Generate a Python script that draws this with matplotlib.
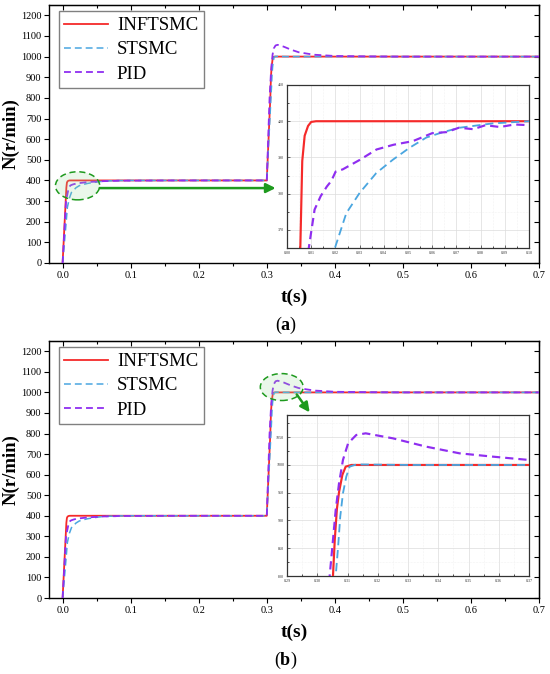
import matplotlib
matplotlib.use("Agg")
import matplotlib.pyplot as plt
from matplotlib.patches import Ellipse
from matplotlib.ticker import MultipleLocator

plt.rcParams['font.family'] = ['Liberation Serif', 'DejaVu Serif']
plt.rcParams['mathtext.fontset'] = 'custom'
plt.rcParams['mathtext.rm'] = 'Liberation Serif'
plt.rcParams['mathtext.bf'] = 'Liberation Serif:bold'

# ---------------- data ----------------
t_inftsmc = [0.0, 0.0055, 0.0063, 0.0073, 0.0087, 0.010, 0.012, 0.300,
             0.3052, 0.3058, 0.3065, 0.3072, 0.3083, 0.3094, 0.3113, 0.700]
n_inftsmc = [0, 365, 389, 396, 398.7, 399.8, 400, 400,
             800, 866, 921, 951, 982, 997, 1000, 1000]

t_stsmc = [0.0, 0.004, 0.007, 0.010, 0.013, 0.0198, 0.0245, 0.030, 0.0369,
           0.0438, 0.0507, 0.0576, 0.0645, 0.0713, 0.085, 0.100, 0.300,
           0.3061, 0.3069, 0.3076, 0.3085, 0.3096, 0.3107, 0.313, 0.330, 0.700]
n_stsmc = [0, 150, 270, 315, 342, 365, 374.6, 380.2, 385.7,
           389.4, 392.7, 395.5, 397.0, 398.2, 399.4, 400, 400,
           800, 853, 907, 949, 979, 997, 1001, 1000, 1000]

t_pid = [0.0, 0.005, 0.009, 0.0114, 0.0139, 0.0165, 0.0183, 0.0201, 0.023,
         0.030, 0.037, 0.044, 0.052, 0.060, 0.066, 0.071, 0.077, 0.082,
         0.088, 0.094, 0.100, 0.150, 0.200, 0.300,
         0.3041, 0.3050, 0.3061, 0.3072, 0.3085, 0.3102, 0.3129, 0.316,
         0.325, 0.336, 0.347, 0.358, 0.370, 0.400, 0.450, 0.500, 0.700]
n_pid = [0, 300, 365, 375.6, 379.3, 382, 383.5, 386.1, 386.7,
         389.3, 392.2, 393.5, 394.5, 396.7, 397.0, 398.2, 397.8, 398.9,
         398.4, 399.1, 398.9, 399.8, 400, 400,
         800, 853, 919, 967, 1009, 1039, 1054, 1057,
         1048, 1033, 1021, 1015, 1009, 1003, 1001, 1000, 1000]

labels = ['INFTSMC', 'STSMC', 'PID']
main_xticks = [0.0, 0.1, 0.2, 0.3, 0.4, 0.5, 0.6, 0.7]
main_yticks = list(range(0, 1201, 100))

inset_a_xticks = [0.00, 0.01, 0.02, 0.03, 0.04, 0.05, 0.06, 0.07, 0.08, 0.09, 0.10]
inset_a_yticks = [370, 380, 390, 400, 410]
inset_b_xticks = [0.29, 0.30, 0.31, 0.32, 0.33, 0.34, 0.35, 0.36, 0.37]
inset_b_yticks = [800, 850, 900, 950, 1000, 1050]

# ---------------- styles ----------------
RED = '#f52a2a'
BLUE = '#4aa6e0'
PURPLE = '#8f2ef0'
GREEN = '#1e9a1e'


def plot_series(ax, lw_scale=1.0):
    ax.plot(t_inftsmc, n_inftsmc, color=RED, lw=1.3 * lw_scale, label=labels[0], zorder=3)
    ax.plot(t_stsmc, n_stsmc, color=BLUE, lw=1.1 * lw_scale, dashes=(4.5, 2.6),
            label=labels[1], zorder=4)
    ax.plot(t_pid, n_pid, color=PURPLE, lw=1.3 * lw_scale, dashes=(3.8, 2.3),
            label=labels[2], zorder=5)


fig = plt.figure(figsize=(5.5, 6.74), dpi=100)

W, H = 550.0, 674.0
def frac_box(l, t, r, b):
    return [l / W, 1 - b / H, (r - l) / W, (b - t) / H]

panels = [
    dict(box=frac_box(49, 5, 539, 263), inset=frac_box(287, 85, 529, 248),
         xlim=(0.0, 0.10), ylim=(365, 410), xt=inset_a_xticks, yt=inset_a_yticks,
         xminor=0.005, yminor=5, xfmt='%.2f', tag='a', tlab_y=297, tag_y=325),
    dict(box=frac_box(49, 341, 539, 598), inset=frac_box(287, 415, 529, 576),
         xlim=(0.29, 0.37), ylim=(800, 1090), xt=inset_b_xticks, yt=inset_b_yticks,
         xminor=0.005, yminor=25, xfmt='%.2f', tag='b', tlab_y=632, tag_y=660),
]

for p in panels:
    ax = fig.add_axes(p['box'])
    plot_series(ax)
    ax.set_xlim(-0.02, 0.70)
    ax.set_ylim(0, 1250)
    ax.set_xticks(main_xticks)
    ax.set_xticklabels(['%.1f' % v for v in main_xticks])
    ax.set_yticks(main_yticks)
    ax.xaxis.set_minor_locator(MultipleLocator(0.05))
    ax.tick_params(axis='both', which='major', direction='out', length=3.5,
                   width=0.8, labelsize=7.5, pad=2)
    ax.tick_params(axis='x', which='minor', direction='out', length=2, width=0.8)
    for s in ax.spines.values():
        s.set_linewidth(1.0)
    # mirrored ticks pointing inward on top / right
    top = ax.secondary_xaxis('top')
    top.set_xticks(main_xticks)
    top.xaxis.set_minor_locator(MultipleLocator(0.05))
    top.tick_params(which='major', direction='in', length=3.5, width=0.8, labeltop=False)
    top.tick_params(which='minor', direction='in', length=2, width=0.8)
    right = ax.secondary_yaxis('right')
    right.set_yticks(main_yticks)
    right.tick_params(direction='in', length=3.5, width=0.8, labelright=False)

    ax.set_ylabel('N(r/min)', fontsize=13.5, fontweight='bold', labelpad=1)
    fig.text(294 / W, 1 - p['tlab_y'] / H, 't(s)', fontsize=14, fontweight='bold',
             ha='center', va='center')
    fig.text(286 / W, 1 - p['tag_y'] / H, r'($\mathbf{%s}$)' % p['tag'], fontsize=13,
             ha='center', va='center')

    leg = ax.legend(loc='upper left', bbox_to_anchor=(0.02, 0.975), fontsize=13.5,
                    frameon=True, fancybox=False, edgecolor='#808080', framealpha=1,
                    handlelength=2.3, handletextpad=0.5, labelspacing=0.38,
                    borderpad=0.3, borderaxespad=0.0)
    leg.get_frame().set_linewidth(1.0)

    # annotations: zoom ellipse + arrow
    if p['tag'] == 'a':
        ax.add_patch(Ellipse((0.022, 374), 0.065, 136, facecolor=(0.6, 0.85, 0.6, 0.2),
                             edgecolor=GREEN, ls=(0, (4, 2.5)), lw=1.1, zorder=6))
        ax.annotate('', xy=(0.313, 363), xytext=(0.0544, 363),
                    arrowprops=dict(arrowstyle='-|>', color=GREEN, lw=1.8,
                                    mutation_scale=14, shrinkA=0, shrinkB=0), zorder=7)
    else:
        ax.add_patch(Ellipse((0.322, 1026), 0.063, 131, facecolor=(0.6, 0.85, 0.6, 0.2),
                             edgecolor=GREEN, ls=(0, (4, 2.5)), lw=1.1, zorder=6))
        ax.annotate('', xy=(0.363, 903), xytext=(0.344, 990),
                    arrowprops=dict(arrowstyle='-|>', color=GREEN, lw=1.8,
                                    mutation_scale=14, shrinkA=0, shrinkB=0), zorder=7)

    # inset
    ins = fig.add_axes(p['inset'])
    plot_series(ins, lw_scale=1.2)
    ins.set_xlim(*p['xlim'])
    ins.set_ylim(*p['ylim'])
    ins.set_xticks(p['xt'])
    ins.set_xticklabels([p['xfmt'] % v for v in p['xt']])
    ins.set_yticks(p['yt'])
    ins.xaxis.set_minor_locator(MultipleLocator(p['xminor']))
    ins.yaxis.set_minor_locator(MultipleLocator(p['yminor']))
    ins.tick_params(axis='both', which='major', direction='in', length=2, width=0.5,
                    labelsize=3, pad=2, colors='#333333')
    ins.tick_params(axis='both', which='minor', direction='in', length=1.2, width=0.5)
    ins.grid(True, which='major', color='#dcdcdc', lw=0.5)
    ins.grid(True, which='minor', color='#e8e8e8', lw=0.4, ls=':')
    ins.set_axisbelow(True)
    for s in ins.spines.values():
        s.set_linewidth(0.9)
        s.set_color('#333333')

fig.savefig('out.png', dpi=100)
